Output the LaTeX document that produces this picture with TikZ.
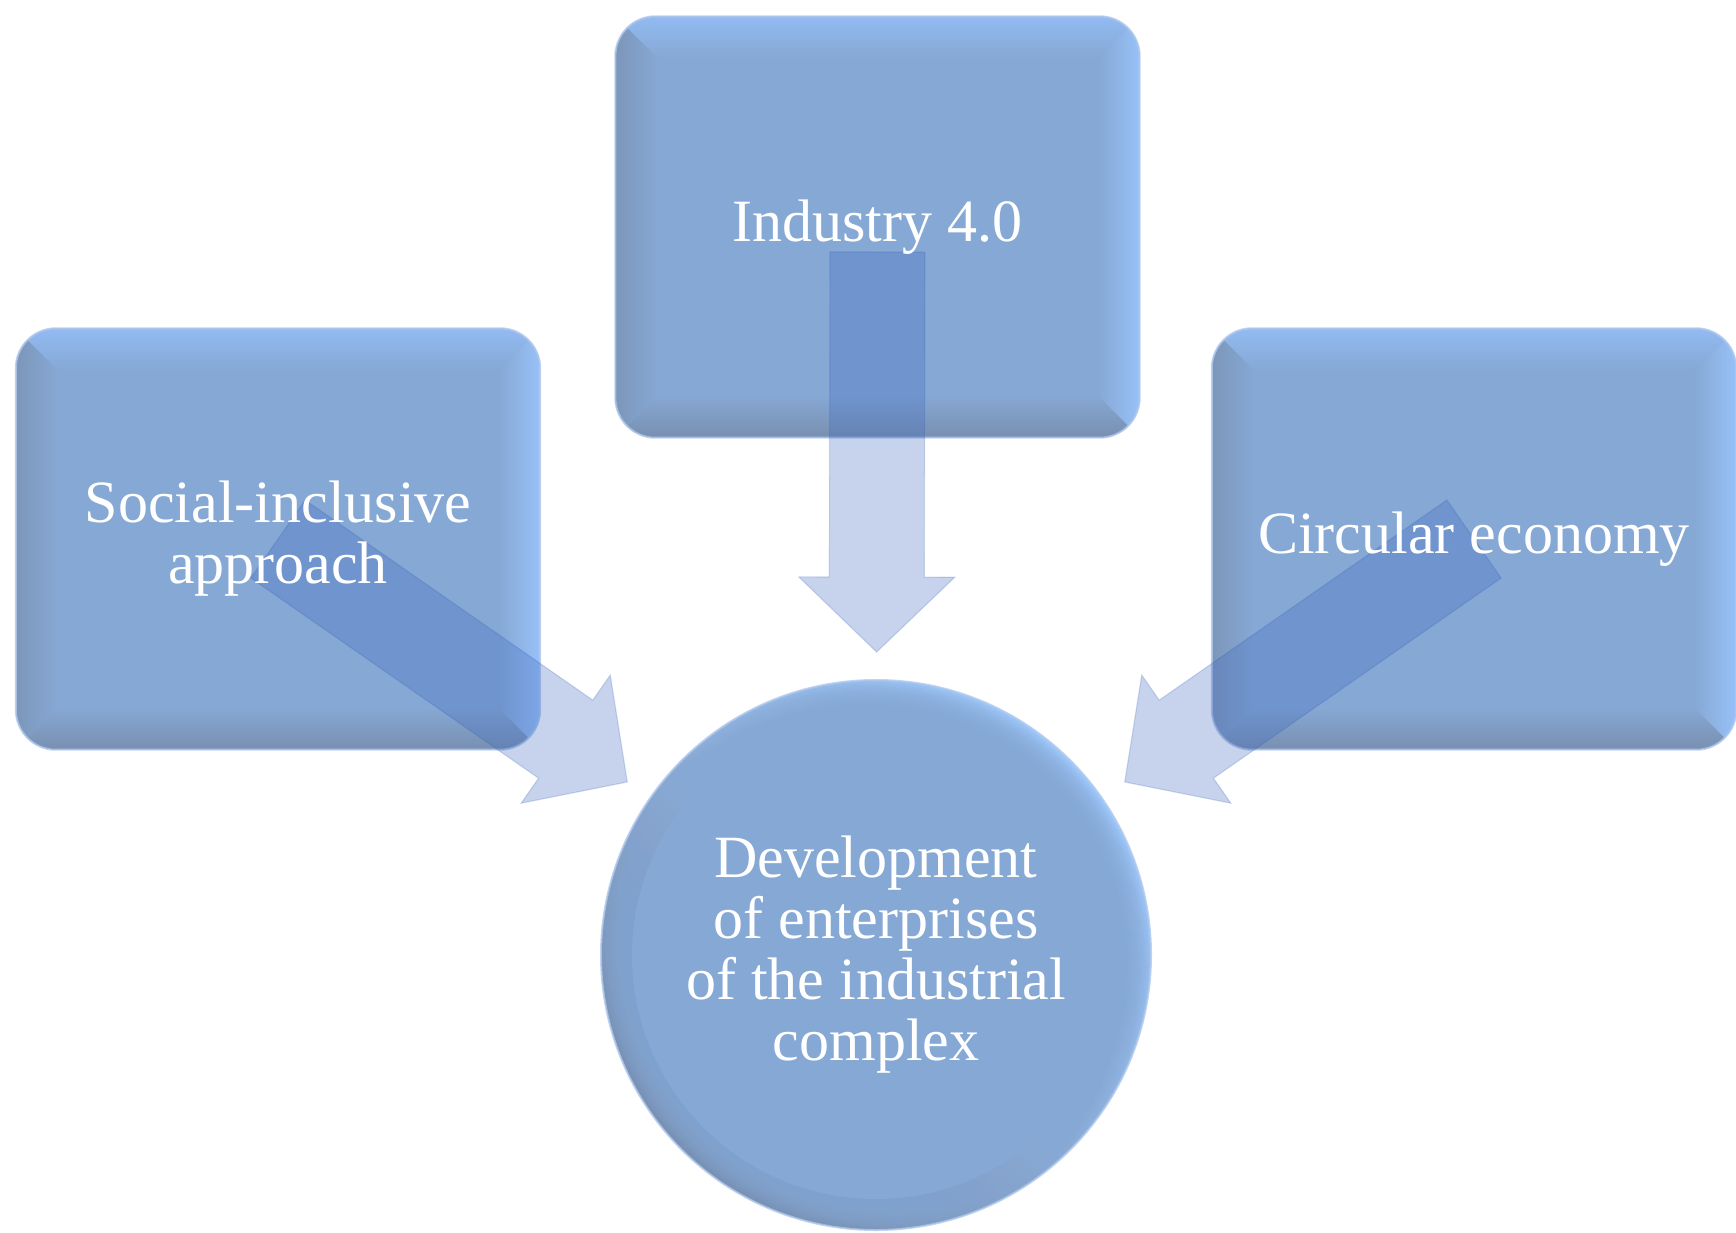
\documentclass[tikz,border=0pt]{standalone}
\usepackage{fontspec}
\setmainfont{Liberation Serif}
\usetikzlibrary{calc}

\definecolor{boxfill}{RGB}{134,168,212}
\definecolor{edgetop}{RGB}{146,187,242}
\definecolor{edgeright}{RGB}{152,193,248}
\definecolor{edgebottom}{RGB}{120,143,176}
\definecolor{edgeleft}{RGB}{124,150,186}
\definecolor{rimlight}{RGB}{158,200,252}
\definecolor{rimdark}{RGB}{118,142,176}
\definecolor{halo}{RGB}{176,200,236}
\definecolor{arrowblue}{RGB}{55,98,187}

\tikzset{
  x=1pt, y=-1pt,
  boxshape/.style={rectangle, minimum width=524pt, minimum height=421pt, inner sep=0pt},
  hubshape/.style={circle, minimum size=550pt, inner sep=0pt},
  boxtext/.style={text=white, align=center, inner sep=0pt,
    font=\fontsize{60}{61}\selectfont},
  flow/.style={fill=arrowblue, fill opacity=0.28,
    draw=arrowblue, draw opacity=0.22, line width=1.2pt, line join=miter},
}

% Rounded box with a bevelled rim, drawn from the anchors of node #1
\newcommand{\bevelbox}[1]{%
  \begin{scope}
    \clip[rounded corners=40pt] (#1.north west) rectangle (#1.south east);
    \fill[boxfill] (#1.north west) rectangle (#1.south east);
    \shade[top color=edgetop, bottom color=boxfill]
      (#1.north west) -- (#1.north east) -- ($(#1.north east)+(-42,42)$)
      -- ($(#1.north west)+(42,42)$) -- cycle;
    \shade[left color=boxfill, right color=edgeright]
      (#1.north east) -- (#1.south east) -- ($(#1.south east)+(-42,-42)$)
      -- ($(#1.north east)+(-42,42)$) -- cycle;
    \shade[top color=boxfill, bottom color=edgebottom]
      (#1.south west) -- (#1.south east) -- ($(#1.south east)+(-42,-42)$)
      -- ($(#1.south west)+(42,-42)$) -- cycle;
    \shade[left color=edgeleft, right color=boxfill]
      (#1.north west) -- (#1.south west) -- ($(#1.south west)+(42,-42)$)
      -- ($(#1.north west)+(42,42)$) -- cycle;
  \end{scope}
  \draw[halo, line width=2pt, opacity=0.8, rounded corners=40pt]
    (#1.north west) rectangle (#1.south east);
}

% Block arrow from coordinate #1 (tail) to coordinate #2 (tip)
\newcommand{\fatarrow}[2]{%
  \coordinate (fa-h) at ($(#2)!75pt!(#1)$);
  \filldraw[flow] ($(#1)!47.5pt!90:(#2)$) -- ($(fa-h)!47.5pt!90:(#2)$)
    -- ($(fa-h)!78pt!90:(#2)$) -- (#2) -- ($(fa-h)!78pt!-90:(#2)$)
    -- ($(fa-h)!47.5pt!-90:(#2)$) -- ($(#1)!47.5pt!-90:(#2)$) -- cycle;
}

\begin{document}
\begin{tikzpicture}
  \useasboundingbox (0,0) rectangle (1736,1232);

  % shapes
  \node[boxshape] (ind) at (877.5,227) {};
  \node[boxshape] (soc) at (278,539) {};
  \node[boxshape] (circ) at (1474,539) {};
  \node[hubshape] (hub) at (876,955) {};

  \bevelbox{ind}
  \bevelbox{soc}
  \bevelbox{circ}

  % central circle: shaded rim fading softly into the face
  \begin{scope}
    \clip (hub.center) circle (275);
    \shade[top color=rimlight, bottom color=rimdark, shading angle=-45]
      (hub.center) circle (275);
  \end{scope}
  \foreach \r in {273,271,...,245}
    \fill[boxfill, opacity=0.14] (hub.center) circle (\r);
  \fill[boxfill] (hub.center) circle (244);
  \draw[halo, line width=2pt, opacity=0.8] (hub.center) circle (275);

  % arrows pointing to the circle
  \coordinate (ind-tail) at ($(ind.center)!25pt!(hub.center)$);
  \coordinate (ind-tip)  at ($(hub.center)!303pt!(ind.center)$);
  \coordinate (soc-tip)  at ($(hub.center)!303pt!(soc.center)$);
  \coordinate (circ-tip) at ($(hub.center)!303pt!(circ.center)$);
  \fatarrow{ind-tail}{ind-tip}
  \fatarrow{soc.center}{soc-tip}
  \fatarrow{circ.center}{circ-tip}

  % labels
  \node[boxtext] (ind-t)  at (ind.center)  {Industry 4.0};
  \node[boxtext] (soc-t)  at (soc.center)  {Social-inclusive\\approach};
  \node[boxtext] (circ-t) at (circ.center) {Circular economy};
  \node[boxtext] (hub-t)  at (hub.center)
    {Development\\of enterprises\\of the industrial\\complex};
\end{tikzpicture}
\end{document}
